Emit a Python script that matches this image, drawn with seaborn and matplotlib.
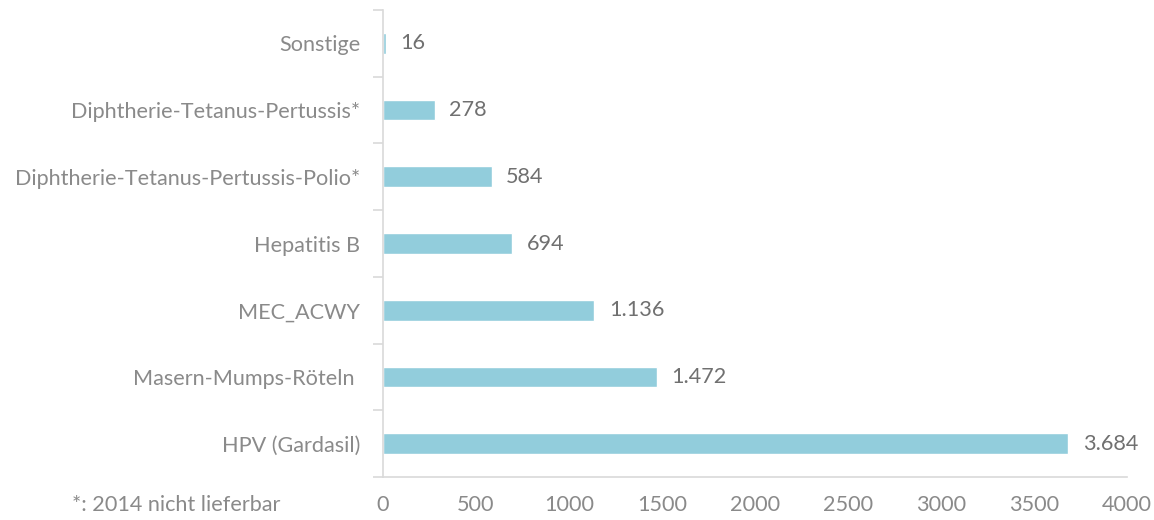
import matplotlib
matplotlib.use("Agg")
import matplotlib.pyplot as plt
import seaborn as sns
import pandas as pd
from matplotlib.ticker import FixedLocator

categories = [
    "Sonstige",
    "Diphtherie-Tetanus-Pertussis*",
    "Diphtherie-Tetanus-Pertussis-Polio*",
    "Hepatitis B",
    "MEC_ACWY",
    "Masern-Mumps-Röteln ",
    "HPV (Gardasil)",
]
values = [16, 278, 584, 694, 1136, 1472, 3684]
x_ticks = [0, 500, 1000, 1500, 2000, 2500, 3000, 3500, 4000]
footnote = "*: 2014 nicht lieferbar"

sns.set_theme(style="white")
plt.rcParams["font.family"] = ["Lato", "DejaVu Sans"]

label_color = "#8a8a8a"
value_color = "#707070"
grid_color = "#d9d9d9"
bar_color = "#92CDDC"
fs = 15.6

df = pd.DataFrame({"Impfstoff": categories, "Anzahl": values})

fig = plt.figure(figsize=(11.54, 5.2), dpi=100)
ax = fig.add_axes([383 / 1154, 1 - 477 / 520, 744 / 1154, 467 / 520])

sns.barplot(data=df, x="Anzahl", y="Impfstoff", orient="h",
            color=bar_color, saturation=1, width=0.31, ax=ax)

ax.set_xlim(0, 4000)
ax.set_ylim(len(categories) - 0.5, -0.5)
ax.set_xlabel("")
ax.set_ylabel("")

ax.set_xticks(x_ticks)
ax.set_xticklabels([str(t) for t in x_ticks])
ax.tick_params(axis="x", length=0, pad=13, labelsize=fs, labelcolor=label_color)
ax.tick_params(axis="y", which="major", length=0, pad=16.5, labelsize=fs,
               labelcolor=label_color)

# category boundary ticks on the value axis
ax.yaxis.set_minor_locator(FixedLocator([i - 0.5 for i in range(len(categories) + 1)]))
ax.tick_params(axis="y", which="minor", length=7, width=1.2, color=grid_color, left=True)

for side in ["top", "right"]:
    ax.spines[side].set_visible(False)
for side in ["left", "bottom"]:
    ax.spines[side].set_color(grid_color)
    ax.spines[side].set_linewidth(1.2)

def fmt(v):
    return f"{v:,}".replace(",", ".")

for i, v in enumerate(values):
    ax.text(v + 78, i, fmt(v), va="center", ha="left",
            fontsize=fs, color=value_color)

fig.text(72 / 1154, 1 - 505 / 520, footnote, fontsize=fs, color=label_color,
         va="center", ha="left")

fig.savefig("out.png", dpi=100)
